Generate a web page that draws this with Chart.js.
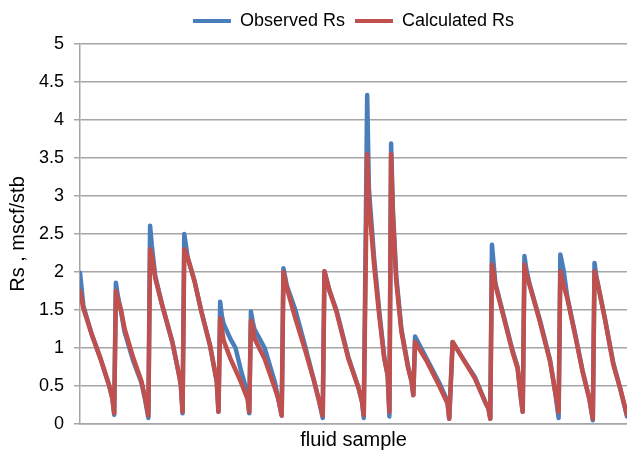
<!DOCTYPE html>
<html>
<head>
<meta charset="utf-8">
<script src="https://cdn.jsdelivr.net/npm/chart.js@4.4.1/dist/chart.umd.min.js"></script>
<style>
  body { margin: 0; background: #fff; }
  #wrap { width: 627px; height: 450px; }
</style>
</head>
<body>
<div id="wrap"><canvas id="rsChart"></canvas></div>
<script>
// point number along the fluid-sample axis (16 samples, each a pressure depletion run)
const sampleX = [
  0, 2, 7, 12, 17, 19, 20,
  21, 22, 24, 26, 31, 36, 38, 40,
  41, 42, 44, 48, 54, 58, 59, 60,
  61, 63, 67, 71, 76, 80, 81,
  82, 83, 84, 88, 91, 94, 98, 99,
  100, 101, 102, 108, 114, 116, 118,
  119, 121, 126, 132, 137, 140, 142,
  143, 146, 150, 157, 163, 165, 166,
  168, 169, 172, 175, 178, 180, 181,
  182, 183, 185, 188, 192, 194, 195,
  196, 203, 210, 215, 216,
  218, 224, 231, 237, 239, 240,
  241, 242, 243, 247, 253, 256, 258, 259,
  260, 261, 263, 269, 275, 278, 280,
  281, 283, 285, 290, 294, 298, 300,
  301, 302, 303, 307, 312, 316, 320
];

const observedRs = [
  1.99, 1.55, 1.17, 0.86, 0.51, 0.33, 0.12,
  1.86, 1.70, 1.48, 1.22, 0.84, 0.54, 0.33, 0.08,
  2.61, 2.35, 1.95, 1.57, 1.08, 0.64, 0.51, 0.14,
  2.50, 2.19, 1.88, 1.48, 1.04, 0.56, 0.16,
  1.61, 1.42, 1.32, 1.12, 1.00, 0.72, 0.40, 0.14,
  1.48, 1.35, 1.25, 1.00, 0.55, 0.33, 0.11,
  2.05, 1.82, 1.50, 1.00, 0.56, 0.29, 0.08,
  2.01, 1.75, 1.50, 0.88, 0.47, 0.29, 0.08,
  4.33, 3.10, 2.20, 1.50, 0.88, 0.64, 0.10,
  3.69, 2.85, 1.95, 1.25, 0.75, 0.56, 0.38,
  1.15, 0.85, 0.55, 0.30, 0.07,
  1.08, 0.86, 0.62, 0.29, 0.20, 0.07,
  2.36, 2.10, 1.85, 1.50, 0.97, 0.75, 0.33, 0.16,
  2.21, 2.05, 1.84, 1.37, 0.84, 0.42, 0.08,
  2.23, 2.01, 1.68, 1.15, 0.70, 0.33, 0.05,
  2.12, 1.95, 1.84, 1.40, 0.80, 0.47, 0.10
];

const calculatedRs = [
  1.75, 1.52, 1.17, 0.86, 0.51, 0.33, 0.14,
  1.75, 1.65, 1.50, 1.26, 0.88, 0.56, 0.35, 0.11,
  2.30, 2.22, 1.92, 1.57, 1.08, 0.64, 0.51, 0.16,
  2.30, 2.19, 1.88, 1.48, 1.04, 0.56, 0.16,
  1.39, 1.25, 1.10, 0.86, 0.71, 0.56, 0.33, 0.16,
  1.36, 1.28, 1.13, 0.86, 0.47, 0.33, 0.11,
  2.00, 1.79, 1.39, 0.95, 0.56, 0.29, 0.11,
  2.01, 1.75, 1.48, 0.86, 0.47, 0.29, 0.12,
  3.55, 2.94, 2.10, 1.44, 0.86, 0.64, 0.16,
  3.55, 2.76, 1.88, 1.22, 0.73, 0.56, 0.38,
  1.08, 0.82, 0.51, 0.27, 0.07,
  1.08, 0.86, 0.60, 0.29, 0.20, 0.07,
  2.10, 1.98, 1.83, 1.48, 0.95, 0.73, 0.33, 0.16,
  2.10, 1.98, 1.83, 1.35, 0.82, 0.42, 0.16,
  2.01, 1.82, 1.66, 1.13, 0.69, 0.33, 0.07,
  2.01, 1.92, 1.83, 1.39, 0.78, 0.47, 0.12
];

const seriesNames = ['Observed Rs', 'Calculated Rs'];
const seriesColors = ['#4a7ebb', '#c0504d'];

const gridGray = '#a6a6a6';
const font = 'Liberation Sans, Arial, sans-serif';

function toPoints(ys) {
  return sampleX.map(function (x, i) { return { x: x, y: ys[i] }; });
}

const data = {
  datasets: [{
    label: seriesNames[0],
    data: toPoints(observedRs),
    borderColor: seriesColors[0],
    backgroundColor: seriesColors[0],
    borderWidth: 4.5,
    order: 1
  }, {
    label: seriesNames[1],
    data: toPoints(calculatedRs),
    borderColor: seriesColors[1],
    backgroundColor: seriesColors[1],
    borderWidth: 4.5,
    order: 0   // drawn on top
  }]
};

const config = {
  type: 'line',
  data,
  options: {
    responsive: true,
    maintainAspectRatio: false,
    animation: false,
    elements: {
      point: { radius: 0 },
      line: { tension: 0, borderJoinStyle: 'round', borderCapStyle: 'round' }
    },
    layout: { padding: { top: 2, right: 0, bottom: 0, left: 0 } },
    scales: {
      x: {
        type: 'linear',
        min: 0,
        max: 320,
        grid: { display: false, drawTicks: false },
        border: { display: true, color: gridGray, width: 1.5 },
        ticks: { display: false },
        title: {
          display: true,
          text: 'fluid sample',
          color: '#000',
          font: { family: font, size: 20, lineHeight: 1 },
          padding: { top: 8, bottom: 0 }
        },
        afterFit: function (scale) { scale.height = 26; }
      },
      y: {
        min: 0,
        max: 5,
        grid: { color: gridGray, lineWidth: 1.5, tickLength: 6 },
        border: { display: true, color: gridGray, width: 1.5 },
        ticks: {
          stepSize: 0.5,
          padding: 10,
          color: '#000',
          font: { family: font, size: 18 },
          callback: function (value) { return String(value); }
        },
        title: {
          display: true,
          text: 'Rs , mscf/stb',
          color: '#000',
          font: { family: font, size: 20, lineHeight: 1 },
          padding: { top: 8, bottom: 0 }
        },
        afterFit: function (scale) { scale.width = 80; }
      }
    },
    plugins: {
      tooltip: { enabled: false },
      // empty spacer between legend and plot
      subtitle: {
        display: true,
        text: ' ',
        weight: 500,
        font: { size: 1, lineHeight: 1 },
        padding: { top: 1, bottom: 2 }
      },
      legend: {
        position: 'top',
        fullSize: false,
        labels: {
          color: '#000',
          font: { family: font, size: 18 },
          usePointStyle: true,
          pointStyleWidth: 38,
          padding: 10,
          generateLabels: function (chart) {
            return chart.data.datasets.map(function (ds, i) {
              return {
                text: ds.label,
                fillStyle: ds.borderColor,
                strokeStyle: ds.borderColor,
                lineWidth: 4,
                pointStyle: 'line',
                lineCap: 'butt',
                fontColor: '#000',
                hidden: !chart.isDatasetVisible(i),
                datasetIndex: i
              };
            });
          }
        }
      }
    }
  }
};

const myChart = new Chart(document.getElementById('rsChart'), config);
</script>
</body>
</html>
